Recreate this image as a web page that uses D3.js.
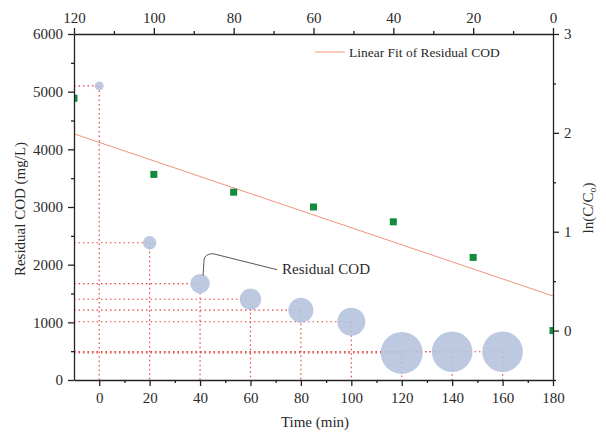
<!DOCTYPE html>
<html>
<head>
<meta charset="utf-8">
<script src="https://cdn.jsdelivr.net/npm/d3@7"></script>
<style>
body { margin: 0; background: #fff; }
text { font-family: "Liberation Serif", "Times New Roman", serif; fill: #2a2a2a; }
.axis path, .axis line { stroke: #222; stroke-width: 1.3; }
</style>
</head>
<body>
<svg id="chart" width="606" height="437"></svg>
<script>
// residual COD bubbles (bottom axis time, left axis COD)
const codTime = [0, 20, 40, 60, 80, 100, 120, 140, 160];
const codValue = [5100, 2380, 1670, 1400, 1210, 1010, 470, 490, 490];
const codSize = [4.5, 6.7, 9.7, 10.7, 12.5, 14, 21, 20.3, 20.3];

// ln(C/C0) points (top axis time, right axis)
const lnTime = [120, 100, 80, 60, 40, 20, 0];
const lnValue = [2.35, 1.58, 1.40, 1.25, 1.10, 0.74, 0];

// linear fit end points
const fitTime = [120, 0];
const fitValue = [1.99, 0.35];

const bottomTicks = [0, 20, 40, 60, 80, 100, 120, 140, 160, 180];
const bottomMinor = [10, 30, 50, 70, 90, 110, 130, 150, 170];
const topTicks = [120, 100, 80, 60, 40, 20, 0];
const topMinor = [110, 90, 70, 50, 30, 10];
const leftTicks = [0, 1000, 2000, 3000, 4000, 5000, 6000];
const leftMinor = [500, 1500, 2500, 3500, 4500, 5500];
const rightTicks = [0, 1, 2, 3];
const rightMinor = [-0.5, 0.5, 1.5, 2.5];

const margin = {top: 34, right: 53, bottom: 57, left: 74};
const W = 606, H = 437;
const x0 = margin.left, x1 = W - margin.right, y0 = H - margin.bottom, y1 = margin.top;

const svg = d3.select('#chart');

const x = d3.scaleLinear().domain([-10, 180]).range([x0, x1]);
const xTop = d3.scaleLinear().domain([120, 0]).range([x0, x1]);
const y = d3.scaleLinear().domain([0, 6000]).range([y0, y1]);
const yR = d3.scaleLinear().domain([-0.5, 3]).range([y0, y1]);
const rScale = d3.scaleLinear().domain([0, 21]).range([0, 21]);

svg.append('defs').append('clipPath').attr('id', 'plot')
    .append('rect').attr('x', x0).attr('y', y1).attr('width', x1 - x0).attr('height', y0 - y1);

// dotted guide lines
const guides = svg.append('g')
    .attr('stroke', '#e3453b')
    .attr('stroke-width', 1.2)
    .attr('stroke-dasharray', '1.5,3');

codTime.forEach((t, i) => {
    guides.append('line')
        .attr('x1', x(-10)).attr('x2', x(t))
        .attr('y1', y(codValue[i])).attr('y2', y(codValue[i]));
    guides.append('line')
        .attr('x1', x(t)).attr('x2', x(t))
        .attr('y1', y(codValue[i])).attr('y2', y(0));
});

// bubbles
svg.append('g').selectAll('circle')
    .data(codTime)
    .enter()
    .append('circle')
    .attr('cx', (d) => x(d))
    .attr('cy', (d, i) => y(codValue[i]))
    .attr('r', (d, i) => rScale(codSize[i]))
    .attr('fill', '#b3c2dd')
    .attr('fill-opacity', 0.88);

// linear fit
svg.append('line')
    .attr('x1', xTop(fitTime[0])).attr('y1', yR(fitValue[0]))
    .attr('x2', xTop(fitTime[1])).attr('y2', yR(fitValue[1]))
    .attr('stroke', '#f0937c')
    .attr('stroke-width', 1);

// green squares
svg.append('g').attr('clip-path', 'url(#plot)').selectAll('rect')
    .data(lnTime)
    .enter()
    .append('rect')
    .attr('x', (d) => xTop(d) - 3.5)
    .attr('y', (d, i) => yR(lnValue[i]) - 3.5)
    .attr('width', 7)
    .attr('height', 7)
    .attr('fill', '#138a3c');

// axes
function drawAxis(axisFn, scale, major, minor, tx, ty, pad) {
    const g = svg.append('g').attr('class', 'axis')
        .attr('transform', 'translate(' + tx + ',' + ty + ')');
    g.call(axisFn(scale).tickValues(major).tickSize(6).tickSizeOuter(0).tickPadding(pad)
        .tickFormat(d3.format('d')));
    g.append('g').call(axisFn(scale).tickValues(minor).tickSize(3).tickSizeOuter(0).tickFormat(''))
        .select('.domain').remove();
    g.selectAll('text').style('font-size', '15px').attr('fill', '#2a2a2a');
    return g;
}

drawAxis(d3.axisBottom, x, bottomTicks, bottomMinor, 0, y0, 6);
drawAxis(d3.axisTop, xTop, topTicks, topMinor, 0, y1, 5);
drawAxis(d3.axisLeft, y, leftTicks, leftMinor, x0, 0, 5);
drawAxis(d3.axisRight, yR, rightTicks, rightMinor, x1, 0, 5);

// axis titles
svg.append('text')
    .attr('x', 315).attr('y', 427)
    .attr('text-anchor', 'middle')
    .style('font-size', '15px')
    .text('Time (min)');

svg.append('text')
    .attr('transform', 'translate(25,209) rotate(-90)')
    .attr('text-anchor', 'middle')
    .style('font-size', '15px')
    .text('Residual COD (mg/L)');

const rt = svg.append('text')
    .attr('transform', 'translate(593,208) rotate(-90)')
    .attr('text-anchor', 'middle')
    .style('font-size', '15px');
rt.append('tspan').text('ln(C/C');
rt.append('tspan').attr('dy', 3).style('font-size', '10px').text('o');
rt.append('tspan').attr('dy', -3).text(')');

// legend
svg.append('line')
    .attr('x1', 315).attr('x2', 345).attr('y1', 52).attr('y2', 52)
    .attr('stroke', '#f0937c').attr('stroke-width', 1);
svg.append('text')
    .attr('x', 349).attr('y', 56.5)
    .style('font-size', '13.5px')
    .text('Linear Fit of Residual COD');

// annotation
const ax = x(codTime[2]), ay = y(codValue[2]);
svg.append('path')
    .attr('d', 'M' + (ax + 3) + ',' + (ay - 8) + ' L' + (ax + 4) + ',' + (ay - 24)
        + ' Q' + (ax + 5) + ',' + (ay - 30) + ' ' + (ax + 13) + ',' + (ay - 30)
        + ' L' + (ax + 77) + ',' + (ay - 14))
    .attr('fill', 'none')
    .attr('stroke', '#555')
    .attr('stroke-width', 1);
svg.append('text')
    .attr('x', ax + 82).attr('y', ay - 10)
    .style('font-size', '15px')
    .text('Residual COD');
</script>
</body>
</html>
